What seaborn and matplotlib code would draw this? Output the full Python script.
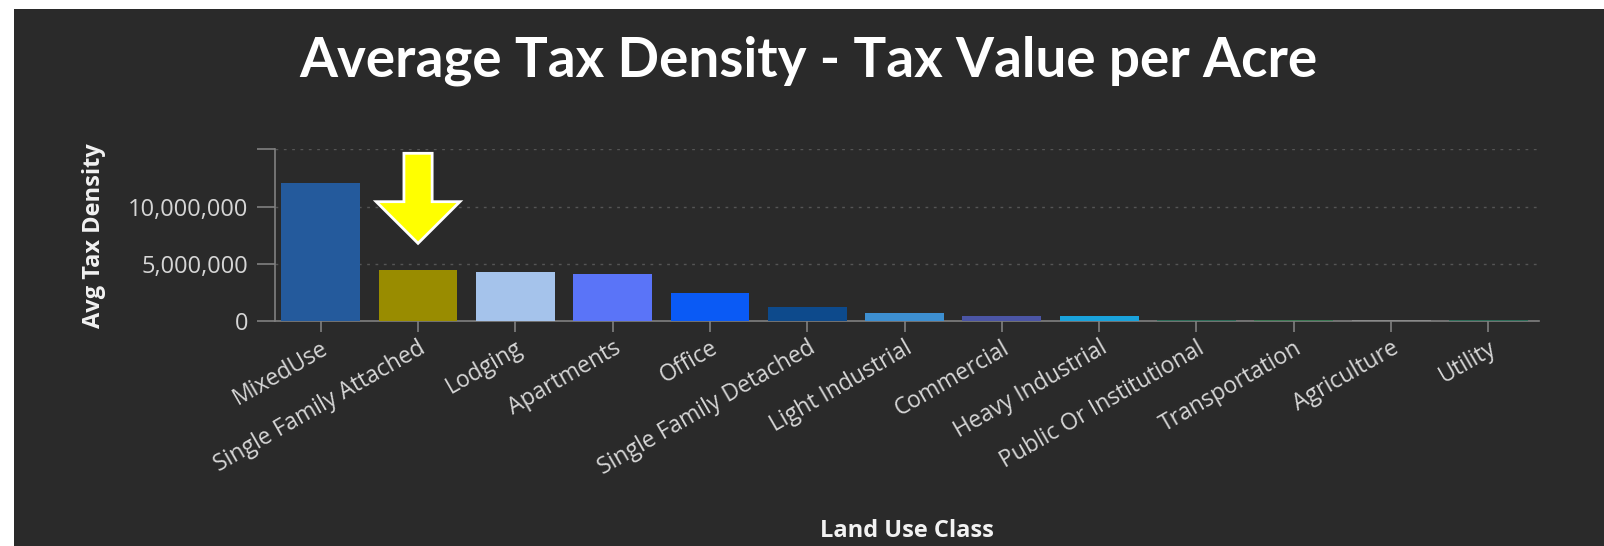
import matplotlib
matplotlib.use("Agg")
import matplotlib.pyplot as plt
import seaborn as sns
from matplotlib.patches import Rectangle

# ---- data ----
categories = ["MixedUse", "Single Family Attached", "Lodging", "Apartments", "Office",
              "Single Family Detached", "Light Industrial", "Commercial", "Heavy Industrial",
              "Public Or Institutional", "Transportation", "Agriculture", "Utility"]
values = [12_100_000, 4_450_000, 4_260_000, 4_110_000, 2_470_000,
          1_250_000, 660_000, 420_000, 450_000,
          60_000, 70_000, 80_000, 50_000]
bar_colors = ["#245a9c", "#998c00", "#a5c3eb", "#5a74f8", "#0a5af5",
              "#0d4a8c", "#3d8fd1", "#4b55a5", "#1aa3dc",
              "#2f6e5a", "#3e7a55", "#8a8a8a", "#2f6e5a"]
ytick_values = [0, 5_000_000, 10_000_000, 15_000_000]
ytick_labels = ["0", "5,000,000", "10,000,000", ""]
title = "Average Tax Density - Tax Value per Acre"
xlabel = "Land Use Class"
ylabel = "Avg Tax Density"
# highlight arrow (category index, top value, tip value)
arrow_cat = 1
arrow_top = 14_660_000
arrow_tip = 6_790_000

BG = "#2a2a2a"
W, H = 1604, 546
fig = plt.figure(figsize=(W / 100, H / 100), dpi=100, facecolor="white")
fig.patches.append(Rectangle((14 / W, 0), 1 - 14 / W, 1 - 9 / H, transform=fig.transFigure,
                             facecolor=BG, edgecolor="none", zorder=-5))

ax = fig.add_axes([275 / W, 1 - 321 / H, (1539 - 275) / W, (321 - 149.4) / H])
ax.set_facecolor("none")

sns.barplot(x=categories, y=values, hue=categories, palette=bar_colors, legend=False,
            saturation=1, width=0.81, ax=ax, zorder=3)

ax.set_ylim(0, 15_000_000)
ax.set_xlim(-0.47, 12.52)
ax.set_yticks(ytick_values)
ax.set_yticklabels(ytick_labels)
ax.grid(False)
for yv in ytick_values[1:]:
    ax.axhline(yv, color="#555555", lw=1, ls=(0, (2, 4)), zorder=1)

for s in ["top", "right"]:
    ax.spines[s].set_visible(False)
for s in ["left", "bottom"]:
    ax.spines[s].set_color("#808080")
    ax.spines[s].set_linewidth(1.2)

fam = ["Open Sans", "DejaVu Sans"]
ax.tick_params(axis="y", length=13, width=1.2, color="#808080", pad=6.5,
               labelcolor="#d6d6d6", labelsize=17)
ax.tick_params(axis="x", length=8, width=1.2, color="#808080", pad=3,
               labelcolor="#d6d6d6", labelsize=16.5)
for lab in ax.get_yticklabels():
    lab.set_family(fam)
for lab in ax.get_xticklabels():
    lab.set_family(fam)
    lab.set_rotation(30)
    lab.set_ha("right")
    lab.set_rotation_mode("anchor")

ax.set_xlabel(xlabel, color="#f2f2f2", fontsize=17, fontweight="bold", family=fam, va="center")
ax.xaxis.set_label_coords(0.5, -1.224)
ax.set_ylabel(ylabel, color="#f2f2f2", fontsize=17, fontweight="bold", family=fam, va="center")
ax.yaxis.set_label_coords(-0.143, 0.5)

fig.text(808 / W, 1 - 77 / H, title, ha="center", va="baseline", color="white",
         fontsize=39.4, fontweight="bold", family=["Lato", "DejaVu Sans"])

ax.arrow(arrow_cat, arrow_top, 0, arrow_tip - arrow_top, width=0.29, head_width=0.86,
         head_length=3_640_000, length_includes_head=True, facecolor="#ffff00",
         edgecolor="white", linewidth=2, zorder=5)

fig.savefig("out.png", dpi=100, facecolor="white")
